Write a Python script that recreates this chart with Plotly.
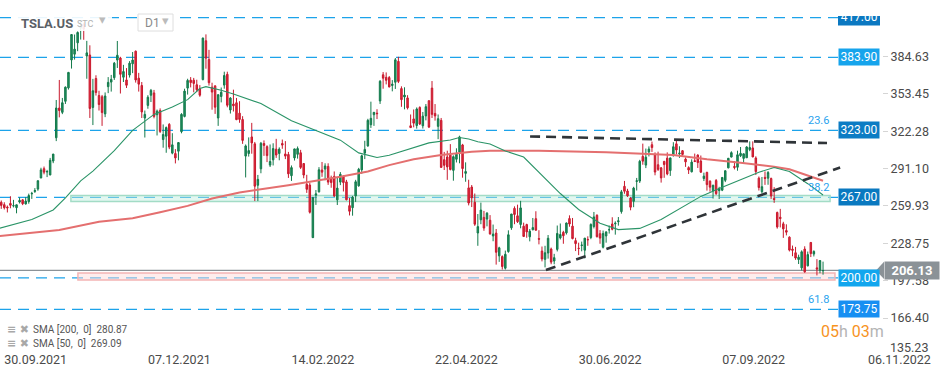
import plotly.graph_objects as go
import pandas as pd

# ---------------- data ----------------
HOLIDAYS = ["2021-11-25", "2021-12-24", "2022-01-17", "2022-02-21", "2022-04-15",
            "2022-05-30", "2022-06-20", "2022-07-04", "2022-09-05"]
trade_days = [d for d in pd.bdate_range("2021-09-28", "2022-10-24")
              if d.strftime("%Y-%m-%d") not in HOLIDAYS]
day_num = list(range(len(trade_days)))          # trading-day number on the x axis
day_of = {d.strftime("%Y-%m-%d"): i for i, d in enumerate(trade_days)}

opens = [
    262.4, 263.0, 261.0,
    259.0, 262.0, 260.0, 258.5, 263.2, 265.0, 261.6, 263.5, 270.0, 272.0, 274.0, 283.3, 291.0, 288.3, 285.8, 297.4, 316.8, 341.6, 338.0, 347.2, 358.4,
    381.7, 386.5, 396.0, 408.3, 411.3, 385.0, 385.8, 342.1, 366.2, 352.0, 351.0, 336.7, 359.4, 363.2, 366.9, 381.6, 383.3, 367.3, 365.0, 369.1, 378.5,
    389.0, 366.5, 360.4, 333.3, 343.8, 352.3, 354.2, 336.0, 339.5, 315.3, 318.1, 328.0, 304.0, 303.6, 305.6, 321.9, 334.6, 358.2, 364.9, 364.8, 361.0, 357.6,
    365.3, 397.7, 382.0, 359.0, 360.1, 333.3, 351.2, 360.7, 369.7, 340.0, 344.9, 346.0, 337.3, 332.0, 301.5, 303.7, 317.5, 311.7, 277.2, 290.9,
    312.0, 309.4, 294.0, 298.4, 307.3, 303.7, 312.0, 303.3, 302.8, 285.2, 300.0, 303.0, 304.3, 295.3, 278.0, 277.4, 233.5, 268.9, 271.7,
    289.9, 290.7, 292.9, 283.0, 284.6, 265.0, 279.8, 284.0, 280.0, 260.2, 258.5, 268.3, 276.7, 290.0, 304.0, 310.0, 327.7, 336.0, 337.3, 347.5, 369.3, 367.2, 367.0,
    360.4, 363.1, 380.5, 357.8, 350.8, 350.0, 326.8, 332.5, 327.0, 342.1, 326.8, 335.0, 347.7, 358.2, 337.1, 326.3, 331.3, 298.5, 300.8, 302.3,
    289.6, 298.9, 305.0, 310.8, 287.1, 275.0, 275.7, 263.0, 237.4, 248.4, 250.4, 249.0, 248.0, 234.9, 237.3, 218.3, 217.7, 208.0, 221.9, 241.7, 257.9,
    251.7, 244.5, 243.0, 244.4, 234.2, 240.1, 249.3, 232.7, 222.3, 215.4, 220.7, 224.0, 214.0, 223.7, 233.3, 237.9, 237.5, 249.4, 243.1, 231.0, 224.6,
    227.0, 223.0, 232.0, 233.6, 242.8, 252.1, 236.8, 225.5, 234.9, 240.0, 244.9, 245.0, 246.8, 255.2, 276.3, 272.4, 266.5, 263.8, 280.4, 280.7,
    301.3, 294.0, 305.0, 311.0, 302.7, 294.3, 291.7, 297.1, 299.8, 289.4, 301.8, 311.7, 303.4, 306.0, 299.0, 291.9, 288.4, 297.6, 302.4, 297.4, 282.8, 287.9, 280.6,
    272.6, 281.1, 272.7, 273.1, 281.3, 291.7, 300.7, 292.9, 292.2, 301.8, 299.6, 300.1, 306.9, 308.3, 299.9, 283.1, 271.8, 283.8, 283.1, 282.8, 266.2,
    254.5, 250.5, 245.0, 239.4, 233.9, 223.9, 220.9, 215.3, 208.3, 224.0, 210.0, 229.5, 219.8, 208.3, 206.4, 205.8,
]
highs = [
    265.2, 264.5, 263.0,
    260.3, 268.0, 265.0, 261.0, 267.0, 265.5, 267.2, 270.2, 271.7, 274.8, 281.1, 291.8, 292.8, 290.0, 300.0, 303.3, 348.3, 365.0, 350.0, 359.6, 371.7,
    403.3, 402.9, 405.5, 414.5, 412.7, 397.6, 393.9, 365.9, 368.9, 356.0, 352.5, 354.6, 367.4, 369.2, 380.0, 397.5, 384.3, 377.6, 374.9, 380.7, 388.3,
    389.5, 370.9, 363.3, 339.5, 352.3, 357.5, 356.7, 340.3, 341.3, 327.9, 326.2, 329.0, 320.6, 307.3, 313.2, 337.3, 357.7, 366.0, 367.4, 366.7, 365.2, 360.7,
    400.4, 403.0, 390.1, 362.7, 360.3, 353.0, 358.7, 371.9, 371.9, 350.7, 356.9, 350.0, 347.3, 334.8, 311.2, 317.1, 329.2, 313.3, 285.8, 313.3,
    314.6, 310.5, 311.2, 312.2, 315.9, 308.8, 315.3, 314.0, 305.0, 293.7, 307.7, 309.5, 306.7, 295.7, 285.9, 279.2, 267.5, 273.2, 292.3,
    296.6, 295.5, 295.5, 285.2, 288.7, 283.3, 288.2, 285.5, 281.7, 266.6, 268.3, 281.7, 291.7, 302.6, 314.3, 332.6, 346.9, 338.3, 340.6, 364.9, 371.6, 371.3, 368.3,
    364.9, 383.3, 384.3, 359.7, 358.9, 352.3, 336.2, 340.4, 342.1, 343.0, 338.3, 344.9, 348.0, 364.1, 344.9, 336.2, 333.3, 305.0, 306.0, 311.5,
    302.1, 308.0, 318.5, 311.7, 296.3, 281.8, 277.4, 270.3, 253.2, 262.7, 255.8, 254.8, 252.3, 244.4, 240.7, 225.9, 218.7, 222.7, 239.6, 253.3, 259.6,
    261.0, 264.2, 246.0, 245.1, 240.7, 249.9, 255.5, 239.7, 226.1, 226.7, 235.7, 225.2, 220.0, 243.6, 245.3, 239.2, 246.1, 252.1, 249.9, 233.4, 229.3,
    230.2, 233.1, 234.6, 245.4, 254.9, 253.0, 239.8, 239.4, 238.7, 243.6, 250.5, 247.1, 250.7, 273.3, 280.8, 274.2, 267.3, 275.9, 283.3, 298.4,
    311.9, 307.8, 309.6, 313.6, 304.6, 305.2, 292.4, 297.5, 304.6, 300.2, 313.1, 314.7, 309.7, 306.5, 300.4, 293.0, 298.8, 303.6, 302.9, 302.0, 287.7, 288.5, 281.3,
    277.6, 282.4, 275.9, 283.8, 289.5, 299.9, 305.5, 297.4, 306.0, 309.1, 303.7, 309.8, 313.8, 313.8, 301.3, 284.5, 284.1, 288.7, 289.0, 283.6, 275.6,
    255.2, 257.5, 246.7, 244.6, 234.6, 226.9, 225.8, 219.3, 222.9, 226.3, 221.9, 229.8, 222.9, 215.6, 214.7, 213.5,
]
lows = [
    255.4, 257.5, 257.0,
    254.5, 258.0, 258.7, 253.8, 262.0, 260.6, 261.1, 261.8, 265.8, 270.8, 272.6, 283.0, 286.3, 284.0, 285.5, 295.6, 314.0, 333.8, 336.5, 345.0, 357.0,
    374.5, 382.0, 389.0, 398.7, 398.5, 366.0, 333.3, 327.4, 352.0, 339.5, 326.7, 334.0, 354.0, 355.3, 365.0, 375.0, 353.7, 363.3, 358.3, 367.0, 370.7,
    362.8, 355.3, 333.3, 317.0, 341.0, 346.6, 333.0, 318.7, 320.8, 308.5, 304.3, 307.3, 303.0, 295.4, 298.0, 320.5, 333.8, 352.8, 358.8, 354.7, 354.9, 351.0,
    364.7, 374.4, 360.3, 340.2, 336.7, 326.7, 346.3, 357.7, 342.2, 337.0, 338.7, 331.5, 329.3, 311.7, 283.7, 301.1, 303.5, 264.0, 264.0, 287.2,
    301.7, 296.5, 292.4, 293.7, 300.0, 298.0, 307.6, 299.0, 283.3, 280.8, 297.8, 299.4, 290.7, 283.0, 270.8, 253.6, 233.3, 260.8, 271.1,
    284.2, 281.4, 277.5, 275.1, 267.4, 260.7, 277.3, 272.0, 264.6, 252.0, 251.8, 263.3, 276.0, 286.7, 299.0, 309.3, 325.0, 326.7, 332.4, 345.0, 357.7, 361.3, 358.8,
    355.5, 357.5, 362.4, 342.6, 340.5, 340.4, 324.9, 325.5, 324.4, 327.4, 324.5, 331.3, 324.9, 333.3, 331.1, 315.6, 291.7, 289.9, 281.7, 289.6,
    281.0, 296.2, 295.5, 283.5, 280.1, 260.4, 259.0, 243.3, 226.7, 244.7, 239.2, 242.9, 236.0, 230.5, 211.0, 213.3, 206.9, 206.9, 220.9, 240.0, 244.7,
    245.7, 241.3, 234.0, 233.4, 230.4, 239.6, 239.3, 227.9, 213.7, 208.7, 216.0, 211.3, 211.3, 222.0, 232.0, 228.4, 236.1, 242.6, 232.1, 222.3, 218.9,
    222.1, 216.2, 226.7, 232.2, 241.2, 233.6, 228.4, 224.5, 229.3, 236.9, 239.6, 236.0, 243.5, 253.5, 270.1, 267.4, 256.3, 258.9, 272.8, 279.1,
    294.3, 291.5, 301.2, 305.0, 285.5, 289.1, 279.4, 283.4, 285.5, 285.0, 301.2, 302.9, 300.0, 301.9, 292.5, 286.6, 287.9, 296.5, 291.6, 287.5, 280.7, 272.7, 271.8,
    266.1, 269.1, 265.7, 272.3, 279.8, 291.3, 300.4, 290.4, 289.3, 300.7, 295.6, 300.0, 305.6, 300.6, 285.8, 272.8, 270.3, 277.5, 277.6, 265.8, 262.5,
    241.0, 242.0, 233.3, 235.4, 222.0, 218.0, 215.0, 211.5, 206.2, 204.2, 209.5, 217.3, 217.8, 202.0, 203.8, 202.6,
]
closes = [
    259.2, 260.4, 258.5,
    258.4, 260.5, 260.2, 260.9, 264.5, 261.8, 264.0, 268.6, 270.4, 272.8, 281.0, 290.0, 288.1, 288.6, 298.0, 303.2, 341.6, 339.5, 346.0, 359.0, 371.3,
    402.9, 390.7, 404.6, 410.0, 407.4, 387.6, 341.2, 356.0, 354.5, 344.5, 337.8, 351.6, 363.0, 365.5, 379.0, 385.6, 369.7, 372.0, 360.6, 379.0, 381.6,
    365.0, 361.5, 338.3, 336.3, 350.6, 356.3, 334.6, 339.0, 322.1, 319.5, 325.3, 309.0, 310.9, 300.0, 312.8, 336.3, 355.7, 364.6, 362.8, 362.1, 356.8, 352.3,
    399.9, 383.2, 362.7, 354.9, 342.3, 352.7, 354.8, 368.7, 343.9, 349.9, 343.5, 331.9, 332.1, 314.6, 310.0, 306.1, 312.5, 276.4, 282.1, 312.2,
    310.4, 301.9, 297.0, 307.8, 302.4, 307.3, 310.7, 301.5, 286.7, 291.9, 307.5, 307.8, 292.1, 285.7, 273.8, 254.7, 266.9, 270.0, 290.1,
    288.1, 293.3, 279.8, 279.4, 268.2, 274.8, 286.3, 279.4, 265.1, 255.5, 267.3, 280.1, 290.5, 301.8, 307.1, 331.3, 333.0, 338.0, 336.9, 363.9, 366.5, 364.7, 359.2,
    361.5, 381.8, 363.8, 348.6, 352.4, 341.8, 325.3, 329.0, 340.8, 328.3, 334.8, 342.7, 325.7, 336.3, 335.0, 332.7, 292.1, 293.8, 292.5, 290.3,
    301.0, 303.1, 317.5, 291.1, 288.6, 262.4, 266.7, 244.7, 242.7, 256.5, 241.5, 253.9, 236.6, 236.5, 221.3, 225.0, 209.4, 219.6, 235.9, 253.2, 252.8,
    246.8, 258.3, 234.5, 238.3, 238.9, 241.9, 239.7, 232.2, 215.7, 220.9, 233.0, 213.1, 216.8, 237.0, 236.1, 235.1, 245.7, 244.9, 232.7, 228.5, 224.5,
    227.3, 233.1, 231.7, 244.5, 250.8, 234.3, 233.1, 237.0, 238.3, 240.1, 240.5, 245.5, 247.5, 271.7, 272.2, 268.4, 258.9, 274.8, 280.9, 297.2,
    297.3, 300.6, 307.4, 308.6, 288.2, 290.4, 283.3, 294.4, 286.6, 300.0, 309.3, 306.6, 304.0, 302.9, 296.7, 289.9, 296.5, 297.1, 296.1, 288.1, 284.8, 277.7, 275.6,
    277.2, 270.2, 274.4, 283.7, 289.3, 299.7, 304.4, 292.1, 302.6, 303.8, 303.4, 309.1, 308.7, 300.8, 288.6, 275.3, 276.0, 282.9, 287.8, 268.2, 265.3,
    242.4, 249.4, 240.8, 238.1, 223.1, 223.0, 216.5, 217.2, 221.7, 205.0, 219.4, 220.2, 222.0, 207.3, 214.4, 206.1,
]
assert len(opens) == len(highs) == len(lows) == len(closes) == len(trade_days), (
    len(opens), len(highs), len(lows), len(closes), len(trade_days))

# moving averages (trading-day number, value)
sma200_day = [0, 11, 20, 33, 44, 53, 62, 70, 79, 95, 112, 121, 128, 136, 145, 155, 161, 177, 199, 221, 232, 243, 254, 259, 270]
sma200_val = [234.8, 237.5, 239.9, 246.7, 249.6, 254.6, 260.0, 266.1, 271.2, 277.2, 284.3, 288.7, 294.0, 298.9, 302.5,
              305.1, 306.0, 306.0, 304.7, 302.4, 298.8, 296.0, 292.7, 290.5, 280.9]
sma50_day = [0, 11, 18, 22, 27, 31, 38, 44, 51, 57, 62, 66, 68, 73, 77, 82, 86, 96, 102, 106, 112, 118, 124, 128, 135,
             141, 148, 151, 154, 157, 161, 166, 172, 177, 184, 190, 197, 203, 210, 217, 223, 230, 236, 243, 249, 254,
             259, 265, 270]
sma50_val = [241.0, 248.6, 256.6, 266.6, 280.8, 289.0, 306.0, 323.0, 336.3, 342.5, 348.6, 357.8, 359.4, 356.4, 353.3,
             349.2, 345.3, 331.0, 324.8, 321.2, 314.8, 304.2, 300.4, 302.2, 308.1, 312.5, 314.9, 317.0, 315.8, 313.5,
             311.6, 305.8, 300.7, 288.2, 270.3, 257.0, 245.5, 240.2, 241.2, 248.6, 257.8, 267.9, 274.4, 281.7, 288.1,
             292.0, 288.7, 278.5, 269.1]

# horizontal levels and their label boxes
level_values = [383.90, 323.00, 267.00, 200.00, 173.75]
level_colors = ["#16a4ec", "#0c7cc4", "#0a79c0", "#12a6ee", "#178ff2"]
top_level = 417.00
fib_levels = [(323.00, "23.6"), (267.00, "38.2"), (173.75, "61.8")]
last_price = 206.13

# zones: (start day, end day, low, high)
zone_teal = (23.8, 272.3, 263.6, 268.6)
zone_pink = (26.1, 273.9, 198.2, 204.0)
# trend lines: (day0, price0, day1, price1)
trend_top = (174.1, 317.9, 271.3, 312.4)
trend_up = (179.3, 206.5, 275.6, 292.0)

y_ticks = [166.40, 197.58, 228.75, 259.93, 291.10, 322.28, 353.45, 384.63]
x_tick_dates = ["2021-09-30", "2021-12-07", "2022-02-14", "2022-04-22", "2022-06-30", "2022-09-07"]
x_tick_text = ["30.09.2021", "07.12.2021", "14.02.2022", "22.04.2022", "30.06.2022", "07.09.2022", "06.11.2022"]
future_tick_day = 284.7   # 06.11.2022 lies in the empty space right of the last candle

# ---------------- geometry helpers (layout only) ----------------
W, H = 949, 378
ML, MR, MT, MB = 0, 67, 16, 28
PW, PH = W - ML - MR, H - MT - MB


def px(x):
    return (x - ML) / PW


def py(y):
    return (H - MB - y) / PH


fig = go.Figure()

fig.add_trace(go.Candlestick(
    x=day_num, open=opens, high=highs, low=lows, close=closes,
    increasing=dict(line=dict(color="#137a4b", width=1), fillcolor="#1f8f5f"),
    decreasing=dict(line=dict(color="#c8192d", width=1), fillcolor="#e22a3e"),
    whiskerwidth=0, showlegend=False, hoverinfo="skip"))

fig.add_trace(go.Scatter(x=sma200_day, y=sma200_val, mode="lines",
                         line=dict(color="#e46f6f", width=2), hoverinfo="skip", showlegend=False))
fig.add_trace(go.Scatter(x=sma50_day, y=sma50_val, mode="lines",
                         line=dict(color="#2a9467", width=1.1), hoverinfo="skip", showlegend=False))

shapes = []
# zones
shapes.append(dict(type="rect", xref="x", yref="y", x0=zone_teal[0], x1=zone_teal[1], y0=zone_teal[2], y1=zone_teal[3],
                   fillcolor="rgba(190,238,222,0.45)", line=dict(color="#a3dcc6", width=1.5), layer="below"))
shapes.append(dict(type="rect", xref="x", yref="y", x0=zone_pink[0], x1=zone_pink[1], y0=zone_pink[2], y1=zone_pink[3],
                   fillcolor="rgba(252,215,215,0.45)", line=dict(color="#f3b4b4", width=1.5), layer="below"))
# dashed blue levels
for v in [top_level] + level_values:
    shapes.append(dict(type="line", xref="paper", yref="y", x0=0, x1=px(838), y0=v, y1=v,
                       line=dict(color="#1ca3ea", width=1.3, dash="11px,7px"), layer="below"))
# last price line
shapes.append(dict(type="line", xref="paper", yref="y", x0=0, x1=px(880), y0=last_price, y1=last_price,
                   line=dict(color="#8b9297", width=1.2), layer="below"))
# trend lines
for t in (trend_top, trend_up):
    shapes.append(dict(type="line", xref="x", yref="y", x0=t[0], y0=t[1], x1=t[2], y1=t[3],
                       line=dict(color="#2f3438", width=2.6, dash="10px,6px"), layer="above"))
# top level box (clipped by the plot top); its text is a clipped text trace drawn on top
shapes.append(dict(type="rect", xref="paper", yref="y", x0=px(838), x1=px(880), y0=410.5, y1=430,
                   fillcolor="#0b78c1", line=dict(width=0), layer="below"))
# last price flag arrow
shapes.append(dict(type="path", xref="paper", yref="y",
                   path=f"M {px(876)},{last_price} L {px(884)},{last_price + 7.2} L {px(884)},{last_price - 7.2} Z",
                   fillcolor="#8b9297", line=dict(width=0), layer="above"))
# header overlay and D1 box
shapes.append(dict(type="rect", xref="paper", yref="paper", x0=px(12), x1=px(112), y0=py(31), y1=py(4),
                   fillcolor="rgba(255,255,255,0.9)", line=dict(width=0), layer="above"))
shapes.append(dict(type="rect", xref="paper", yref="paper", x0=px(138), x1=px(173), y0=py(31), y1=py(14),
                   fillcolor="white", line=dict(color="#dedede", width=1), layer="above"))

fig.add_trace(go.Scatter(x=[281.8], y=[top_level], mode="text", text=[f"{top_level:.2f}"],
                         textposition="middle center",
                         textfont=dict(color="white", size=12, family="Roboto"), cliponaxis=True,
                         hoverinfo="skip", showlegend=False))

ann = []
for v, c in zip(level_values, level_colors):
    ann.append(dict(xref="paper", yref="y", x=px(838), y=v, xanchor="left", yanchor="middle",
                    text=f"{v:.2f}", showarrow=False, bgcolor=c, width=38, borderpad=1,
                    font=dict(color="white", size=12, family="Roboto")))
for v, t in fib_levels:
    ann.append(dict(xref="paper", yref="y", x=px(831), y=v, xanchor="right", yanchor="bottom", yshift=1,
                    text=t, showarrow=False, font=dict(color="#2aa3ee", size=11, family="Roboto")))
ann.append(dict(xref="paper", yref="y", x=px(884), y=last_price, xanchor="left", yanchor="middle",
                text=f"<b>{last_price:.2f}</b>", showarrow=False, bgcolor="#8b9297", width=52, borderpad=1,
                font=dict(color="white", size=13, family="Roboto")))
ann.append(dict(xref="paper", yref="paper", x=px(888), y=py(347), xanchor="left", yanchor="middle",
                text="135.23", showarrow=False, font=dict(color="#4a4a4a", size=12.5, family="Roboto")))
ann.append(dict(xref="paper", yref="paper", x=px(852), y=py(331), xanchor="center", yanchor="middle",
                text="<span style='color:#f7931e'>05</span><span style='color:#b4b4b4'>h</span> "
                     "<span style='color:#f7931e'>03</span><span style='color:#b4b4b4'>m</span>",
                showarrow=False, font=dict(size=16, family="Roboto")))
# indicator legend
for yy, txt in ((329, "SMA [200,  0]  280.87"), (343, "SMA [50,  0]  269.09")):
    ann.append(dict(xref="paper", yref="paper", x=px(5), y=py(yy), xanchor="left", yanchor="middle",
                    text="<b>≡</b> ✖", showarrow=False, font=dict(color="#a8a8a8", size=11, family="DejaVu Sans")))
    ann.append(dict(xref="paper", yref="paper", x=px(31), y=py(yy), xanchor="left", yanchor="middle",
                    text=txt, showarrow=False, font=dict(color="#555", size=10, family="Roboto")))
# header
ann.append(dict(xref="paper", yref="paper", x=px(19), y=py(23), xanchor="left", yanchor="middle",
                text="<b>TSLA.US</b>", showarrow=False, font=dict(color="#5a6066", size=13, family="Roboto")))
ann.append(dict(xref="paper", yref="paper", x=px(75), y=py(24), xanchor="left", yanchor="middle",
                text="STC", showarrow=False, font=dict(color="#b3b3b3", size=9, family="Roboto")))
ann.append(dict(xref="paper", yref="paper", x=px(97), y=py(20), xanchor="left", yanchor="middle",
                text="▾", showarrow=False, font=dict(color="#bbbbbb", size=13, family="DejaVu Sans")))
ann.append(dict(xref="paper", yref="paper", x=px(143), y=py(23), xanchor="left", yanchor="middle",
                text="D1", showarrow=False, font=dict(color="#8a8a8a", size=12, family="Roboto")))
ann.append(dict(xref="paper", yref="paper", x=px(160), y=py(21), xanchor="left", yanchor="middle",
                text="▾", showarrow=False, font=dict(color="#bbbbbb", size=13, family="DejaVu Sans")))

x_tick_vals = [day_of[d] for d in x_tick_dates] + [future_tick_day]

fig.update_layout(
    width=W, height=H, margin=dict(l=ML, r=MR, t=MT, b=MB),
    paper_bgcolor="white", plot_bgcolor="white", showlegend=False,
    font=dict(family="Roboto", color="#444"),
    shapes=shapes, annotations=ann,
    xaxis=dict(range=[0.59, 289.3], rangeslider=dict(visible=False), showgrid=False, zeroline=False,
               showline=False, tickvals=x_tick_vals, ticktext=x_tick_text, ticks="",
               ticklabelposition="outside right",
               tickfont=dict(size=12.5, color="#4a4a4a", family="Roboto")),
    yaxis=dict(side="right", range=[139.8, 418.34], showgrid=False, zeroline=False, showline=False,
               tickvals=y_ticks, ticktext=[f"{v:.2f}" for v in y_ticks], ticks="outside", ticklen=5,
               tickcolor="#d5d5d5", tickfont=dict(size=12.5, color="#4a4a4a", family="Roboto")),
)

fig.write_html("out.html", config={"displayModeBar": False},
               post_script="document.body.style.margin='0';document.body.style.overflow='hidden';")
